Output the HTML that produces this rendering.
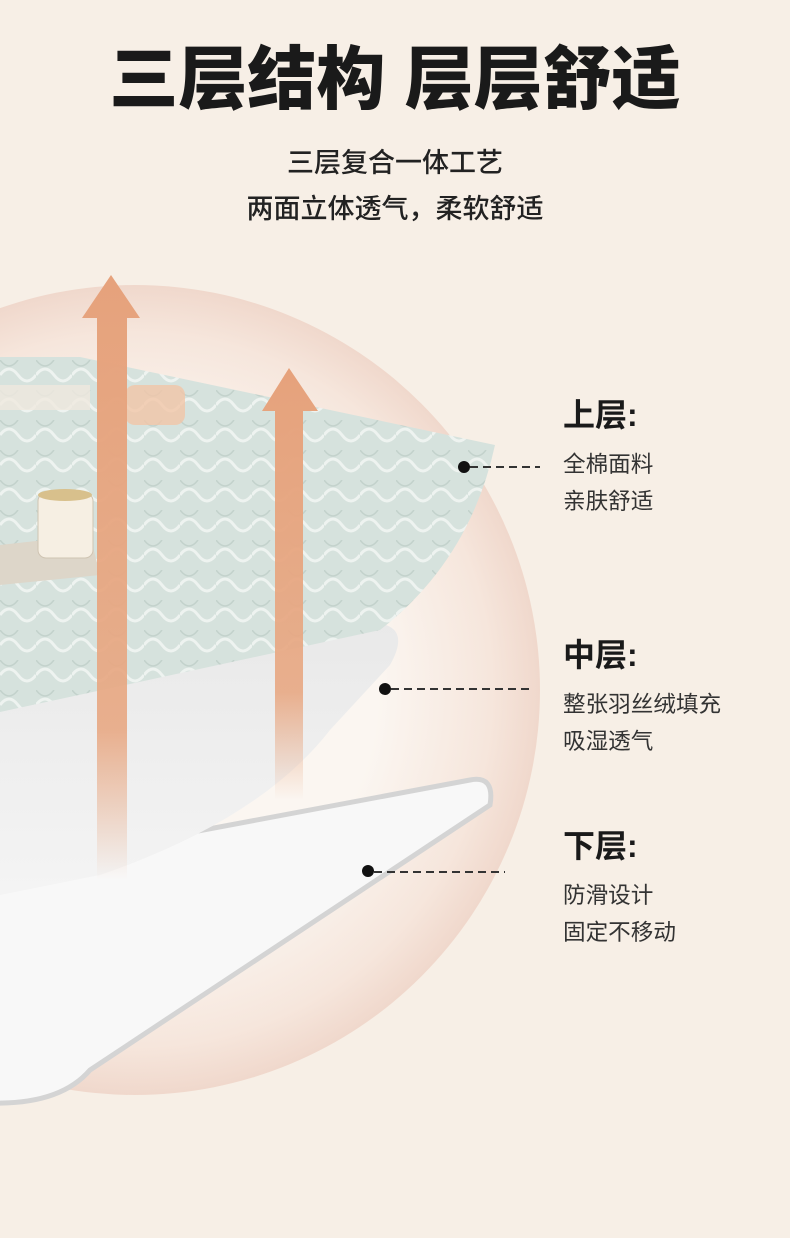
<!DOCTYPE html>
<html><head><meta charset="utf-8"><style>
html,body{margin:0;padding:0}
body{width:790px;height:1238px;background:#f7efe6;position:relative;overflow:hidden;font-family:"Liberation Sans","Noto Sans CJK SC",sans-serif;color:#1a1a1a}
.t{position:absolute;left:0;width:790px;text-align:center}
.lab{position:absolute;left:563px}
.h{font-size:32px;font-weight:bold}
.s{font-size:22.6px;line-height:37px;color:#333}
</style></head><body>
<svg width="790" height="1238" style="position:absolute;left:0;top:0">
<defs>
<radialGradient id="c" cx="0.5" cy="0.5" r="0.5">
<stop offset="0.6" stop-color="#fbf6f1"/><stop offset="0.88" stop-color="#f6e6dc"/><stop offset="1" stop-color="#f0d8cc"/></radialGradient>
<linearGradient id="ar" x1="0" y1="0" x2="0" y2="1">
<stop offset="0" stop-color="#e6a27c"/><stop offset="0.75" stop-color="#e8a883" stop-opacity="0.9"/><stop offset="1" stop-color="#e8a883" stop-opacity="0"/></linearGradient>
<linearGradient id="mid" x1="0" y1="0" x2="0" y2="1">
<stop offset="0" stop-color="#e9e9e9"/><stop offset="1" stop-color="#f4f4f4"/></linearGradient>
<pattern id="q" width="36" height="30" patternUnits="userSpaceOnUse">
<rect width="36" height="30" fill="#d6e2dd"/>
<path d="M0 15 Q9 3 18 15 T36 15" stroke="#eef3f0" stroke-width="3" fill="none"/>
<path d="M0 0 Q9 12 18 0" stroke="#c3d2cc" stroke-width="1.5" fill="none"/>
</pattern>
</defs>
<circle cx="135" cy="690" r="405" fill="url(#c)"/>
<path d="M-10 870 L470 780 Q495 775 490 805 L90 1070 Q60 1105 -10 1103" fill="#f8f8f8" stroke="#d4d4d4" stroke-width="5"/>
<path d="M0 690 L340 625 Q420 612 390 665 L330 730 Q260 820 100 875 L0 895 Z" fill="url(#mid)"/>
<path d="M0 357 L80 357 L495 445 Q470 560 380 630 L0 712 Z" fill="url(#q)"/>
<rect x="0" y="385" width="90" height="25" fill="#efe9df" opacity="0.8"/>
<rect x="125" y="385" width="60" height="40" rx="10" fill="#f1c6a8" opacity="0.8"/>
<path d="M0 545 L90 535 L100 575 L0 585 Z" fill="#ddd6c9"/>
<rect x="38" y="493" width="55" height="65" rx="8" fill="#f6efe3" stroke="#cfc4b2"/>
<ellipse cx="65" cy="495" rx="27" ry="6" fill="#d8c08c"/>
<polygon points="111,275 140,318 127,318 127,880 97,880 97,318 82,318" fill="url(#ar)"/>
<polygon points="289,368 318,411 303,411 303,800 275,800 275,411 262,411" fill="url(#ar)"/>
<g fill="#111"><circle cx="464" cy="467" r="6"/><circle cx="385" cy="689" r="6"/><circle cx="368" cy="871" r="6"/></g>
<g stroke="#333" stroke-width="2" stroke-dasharray="8,5"><line x1="470" y1="467" x2="540" y2="467"/><line x1="391" y1="689" x2="532" y2="689"/><line x1="374" y1="872" x2="505" y2="872"/></g>
</svg>
<div class="t" style="top:38px;font-size:69px;font-weight:900;line-height:84px">三层结构 层层舒适</div>
<div class="t" style="top:140px;font-size:27px;line-height:46px;color:#222;font-weight:500">三层复合一体工艺<br>两面立体透气，柔软舒适</div>
<div class="lab" style="top:390px"><div class="h">上层:</div><div class="s" style="margin-top:10px">全棉面料<br>亲肤舒适</div></div>
<div class="lab" style="top:630px"><div class="h">中层:</div><div class="s" style="margin-top:10px">整张羽丝绒填充<br>吸湿透气</div></div>
<div class="lab" style="top:821px"><div class="h">下层:</div><div class="s" style="margin-top:10px">防滑设计<br>固定不移动</div></div>
</body></html>
